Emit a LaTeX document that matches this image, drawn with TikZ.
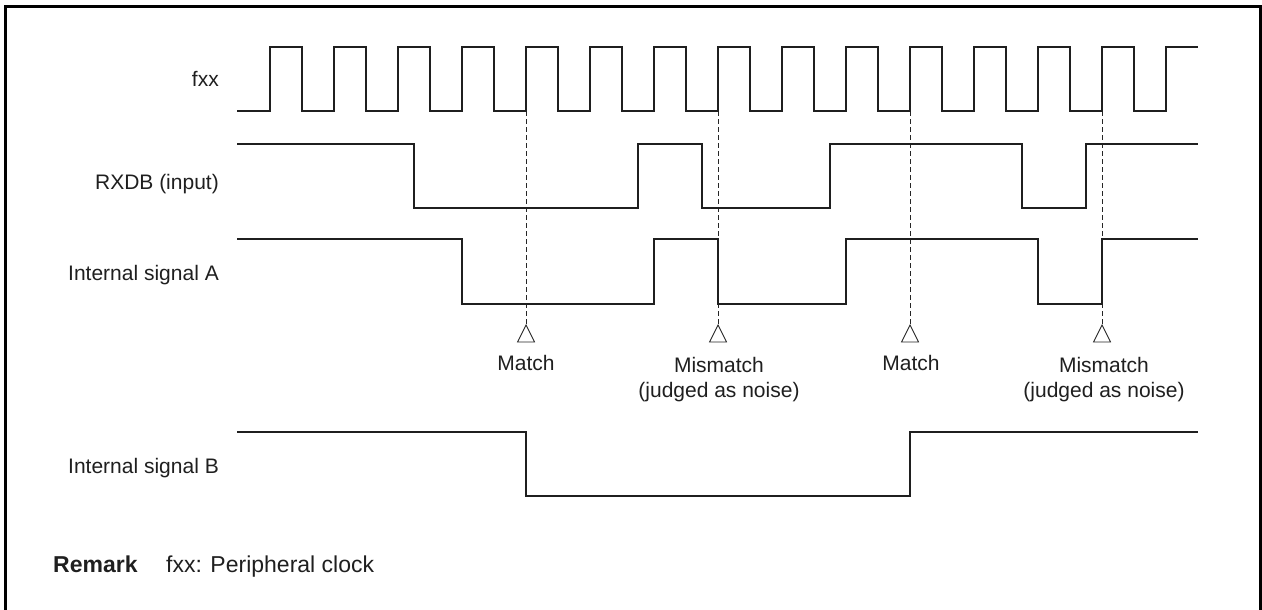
\documentclass[tikz,border=0pt]{standalone}
\usepackage{fontspec}
\setmainfont{Liberation Sans}
\begin{document}
\begin{tikzpicture}[x=1pt,y=-1pt,
  sig/.style={line width=2.2pt,draw=black!88,line join=miter},
  guide/.style={line width=0.9pt,draw=black!85,dash pattern=on 5pt off 3pt},
  tri/.style={line width=0.9pt,draw=black!85,fill=white},
  lbl/.style={font=\fontsize{21}{24.5}\selectfont,text=black!88,inner sep=0pt},
  note/.style={font=\fontsize{21}{24.5}\selectfont,text=black!88,inner sep=0pt,align=center,anchor=base}]
\useasboundingbox (0,0) rectangle (1262,610);
\draw[line width=3pt,black] (5.5,612) -- (5.5,7) -- (1260.5,7) -- (1260.5,612);
% labels
\node[lbl,anchor=base east] (lclk) at (219,87) {fxx};
\node[lbl,anchor=base east] (lrx) at (219,189) {RXDB (input)};
\node[lbl,anchor=base east] (la) at (219,280) {Internal signal A};
\node[lbl,anchor=base east] (lb) at (219,473) {Internal signal B};
% guides
\foreach \x in {526,718,910,1102}{
  \draw[guide] (\x,111) -- (\x,325);
  \draw[tri] (\x,325) -- (\x+8.5,342) -- (\x-8.5,342) -- cycle;
}
% clock
\draw[sig] (237,111) foreach \k in {0,...,13} { -- ({270+64*\k},111) -- ({270+64*\k},47) -- ({302+64*\k},47) -- ({302+64*\k},111) } -- (1166,111) -- (1166,47) -- (1198,47);
% RXDB
\draw[sig] (237,144) -- (414,144) -- (414,208) -- (638,208) -- (638,144) -- (702,144) -- (702,208) -- (830,208) -- (830,144) -- (1022,144) -- (1022,208) -- (1086,208) -- (1086,144) -- (1198,144);
% A
\draw[sig] (237,239) -- (462,239) -- (462,304) -- (654,304) -- (654,239) -- (718,239) -- (718,304) -- (846,304) -- (846,239) -- (1038,239) -- (1038,304) -- (1102,304) -- (1102,239) -- (1198,239);
% B
\draw[sig] (237,432) -- (526,432) -- (526,496) -- (910,496) -- (910,432) -- (1198,432);
% notes
\node[note] (m1) at (526,370) {Match};
\node[note] (n1) at (719,397) {Mismatch\\(judged as noise)};
\node[note] (m2) at (911,370) {Match};
\node[note] (n2) at (1104,397) {Mismatch\\(judged as noise)};
% remark
\node[anchor=base west,inner sep=0pt,font=\fontsize{23}{26}\selectfont\bfseries,text=black!88] (rem) at (53,572) {Remark};
\node[anchor=base west,inner sep=0pt,font=\fontsize{23}{26}\selectfont,text=black!88] (remt) at (166,572) {fxx: Peripheral clock};
\end{tikzpicture}
\end{document}
